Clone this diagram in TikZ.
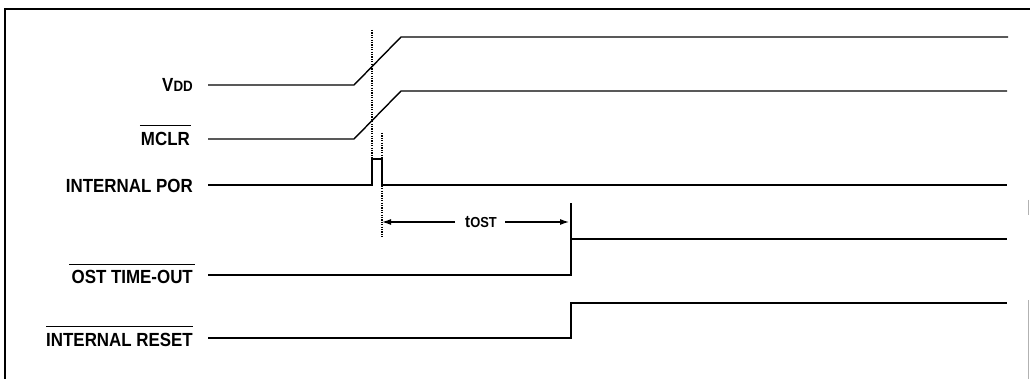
\documentclass[tikz,border=0pt]{standalone}
\usepackage{fontspec}
\setmainfont{Liberation Sans}[FakeStretch=0.89]
\usetikzlibrary{arrows.meta}
\begin{document}
\begin{tikzpicture}[x=1pt,y=-1pt,
  siglabel/.style={anchor=east,inner sep=0pt,font=\bfseries\fontsize{19}{19}\selectfont},
  wave/.style={line width=1.4pt,line join=miter},
  frame/.style={line width=1.3pt},
  overbar/.style={line width=1pt},
  guide/.style={line width=1.1pt,dash pattern=on 1.2pt off 1.2pt},
  dim/.style={line width=1.2pt,-{Latex[length=9pt,width=6pt]}}]
\useasboundingbox (0,0) rectangle (1030,379);
% frame
\draw[frame] (5,379) -- (5,9) -- (1030,9);
\draw[line width=0.8pt,black!30] (1028,300) -- (1028,379);
\draw[line width=0.8pt,black!30] (1028,200) -- (1028,215);
% labels
\node[siglabel] (vdd) at (193,85) {V{\fontsize{15}{15}\selectfont DD}};
\node[siglabel] (mclr) at (190,139) {MCLR};
\node[siglabel] (por) at (193,186) {INTERNAL POR};
\node[siglabel] (ost) at (193,277) {OST TIME-OUT};
\node[siglabel] (rst) at (193,340) {INTERNAL RESET};
\draw[overbar] ([shift={(-1,-7)}]mclr.north west) -- ([shift={(1,-7)}]mclr.north east);
\draw[overbar] ([shift={(-2,-6)}]ost.north west) -- ([shift={(2,-6)}]ost.north east);
\draw[overbar] ([shift={(0,-7)}]rst.north west) -- ([shift={(0,-7)}]rst.north east);
% waveforms
\draw[wave] (208,85) -- (354,85) -- (401,37) -- (1008,37);
\draw[wave] (208,139) -- (354,139) -- (401,91) -- (1007,91);
\draw[wave] (208,185) -- (372,185) -- (372,159) -- (382,159) -- (382,185) -- (1007,185);
\draw[wave] (208,275) -- (571,275) -- (571,203);
\draw[wave] (571,239) -- (1007,239);
\draw[wave] (208,338) -- (571,338) -- (571,303) -- (1007,303);
% guides
\coordinate (g1a) at (372,30);
\coordinate (g1b) at (372,159);
\coordinate (g2a) at (382,133);
\coordinate (g2b) at (382,237);
\draw[guide] (g1a) -- (g1b);
\draw[guide] (g2a) -- (g2b);
% dimension
\node[inner sep=0pt,font=\bfseries\fontsize{17}{17}\selectfont] (tost) at (481,222) {t{\fontsize{14.5}{14.5}\selectfont OST}};
\coordinate (dl) at (382,222);
\coordinate (dr) at (569,222);
\draw[dim] (455,222) -- (dl);
\draw[dim] (505,222) -- (dr);
\end{tikzpicture}
\end{document}
